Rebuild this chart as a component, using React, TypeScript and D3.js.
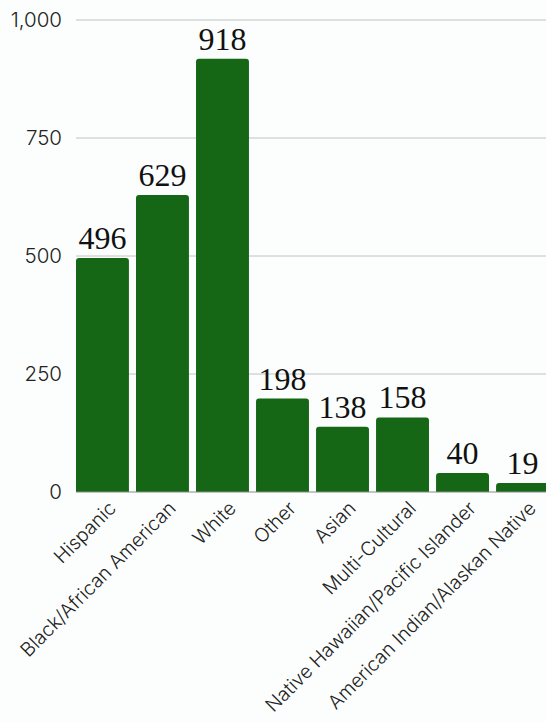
import React from "react";
import * as d3 from "d3";

const categories = [
  "Hispanic",
  "Black/African American",
  "White",
  "Other",
  "Asian",
  "Multi-Cultural",
  "Native Hawaiian/Pacific Islander",
  "American Indian/Alaskan Native",
];
const values = [496, 629, 918, 198, 138, 158, 40, 19];
const yTicks = [0, 250, 500, 750, 1000];

const W = 546;
const H = 722;
const plotLeft = 76;
const plotTop = 20;
const plotBottom = 492;
const barColor = "#156615";

function topRoundedRect(x: number, y: number, w: number, h: number, r: number) {
  const rr = Math.min(r, h, w / 2);
  return `M${x},${y + h}V${y + rr}Q${x},${y} ${x + rr},${y}H${x + w - rr}Q${x + w},${y} ${x + w},${y + rr}V${y + h}Z`;
}

export default function App() {
  const x = d3
    .scaleBand<string>()
    .domain(categories)
    .range([plotLeft, plotLeft + 60 * 8 - 7])
    .paddingInner(0.118)
    .paddingOuter(0);
  const y = d3.scaleLinear().domain([0, 1000]).range([plotBottom, plotTop]);
  const fmt = d3.format(",");

  return (
    <svg
      width={W}
      height={H}
      style={{ position: "absolute", left: 0, top: 0, background: "#fbfefd" }}
    >
      {yTicks.map((t) => (
        <g key={t}>
          {t !== 0 && (
            <line x1={plotLeft} x2={W} y1={y(t)} y2={y(t)} stroke="#c2c2c2" strokeWidth={1} />
          )}
          <text
            x={62}
            y={y(t)}
            dy="0.35em"
            textAnchor="end"
            fontFamily="Inter, 'DejaVu Sans', sans-serif"
            fontSize={20.5}
            fontWeight={300}
            fill="#222"
          >
            {fmt(t)}
          </text>
        </g>
      ))}
      {categories.map((c, i) => {
        const bx = x(c)!;
        const bw = x.bandwidth();
        const by = y(values[i]);
        return (
          <g key={c}>
            <path d={topRoundedRect(bx, by, bw, plotBottom - by, 3)} fill={barColor} />
            <text
              x={bx + bw / 2}
              y={by - 9}
              textAnchor="middle"
              fontFamily="'Liberation Serif', 'DejaVu Serif', serif"
              fontSize={32}
              fill="#111"
            >
              {values[i]}
            </text>
            <text
              transform={`translate(${bx + bw / 2 + 5},${plotBottom + 8}) rotate(-45)`}
              textAnchor="end"
              dy="0.7em"
              fontFamily="Inter, 'DejaVu Sans', sans-serif"
              fontSize={19.3}
              fontWeight={300}
              fill="#222"
            >
              {c}
            </text>
          </g>
        );
      })}
      <line x1={plotLeft} x2={W} y1={plotBottom} y2={plotBottom} stroke="#8a8a8a" strokeWidth={1} />
    </svg>
  );
}
